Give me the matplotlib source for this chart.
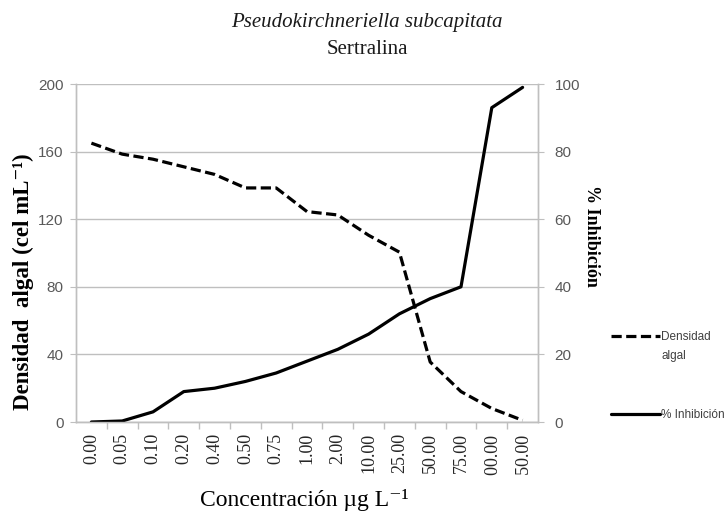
import matplotlib
matplotlib.use("Agg")
import matplotlib.pyplot as plt
from matplotlib.legend_handler import HandlerLine2D
from matplotlib.transforms import Bbox, TransformedBbox
import numpy as np

plt.rcParams["mathtext.fontset"] = "custom"
plt.rcParams["mathtext.rm"] = "Liberation Serif"
plt.rcParams["mathtext.bf"] = "Liberation Serif:bold"

# concentraciones (ug/L) como categorias
conc = ["0.00", "0.05", "0.10", "0.20", "0.40", "0.50", "0.75", "1.00",
        "2.00", "10.00", "25.00", "50.00", "75.00", "100.00", "150.00"]
densidad = [165, 158.5, 155.5, 151, 146.5, 138.5, 138.5, 124.5,
            122.5, 110.5, 100.5, 35.5, 18, 8, 1]
inhibicion = [0, 0.3, 3, 9, 10, 12, 14.5, 18,
              21.5, 26, 32, 36.5, 40, 93, 99]

serif = ["Liberation Serif", "DejaVu Serif"]
sans = ["Liberation Sans", "DejaVu Sans"]
gris = "#BFBFBF"
gris_txt = "#595959"


class HandlerArriba(HandlerLine2D):
    # la linea de muestra queda a la altura del primer renglon
    def __init__(self, dy=0, **kw):
        super().__init__(**kw)
        self.dy = dy

    def create_artists(self, legend, orig_handle, xdescent, ydescent,
                       width, height, fontsize, trans):
        arts = super().create_artists(legend, orig_handle, xdescent, ydescent,
                                      width, height, fontsize, trans)
        for a in arts:
            a.set_ydata(np.asarray(a.get_ydata()) + self.dy)
        return arts


fig = plt.figure(figsize=(7.26, 5.15), dpi=100)
ax = fig.add_axes([76 / 726, 1 - 422 / 515, 462 / 726, 338 / 515])
ax2 = ax.twinx()

x = np.arange(len(conc))
l1, = ax.plot(x, densidad, color="black", lw=2.3, dashes=(3.2, 1.4),
              dash_capstyle="butt", dash_joinstyle="round")
l2, = ax2.plot(x, inhibicion, color="black", lw=2.3,
               solid_joinstyle="round", solid_capstyle="round")

ax.set_xlim(-0.5, len(conc) - 0.5)
ax.set_ylim(0, 200)
ax2.set_ylim(0, 100)
ax.set_yticks(np.arange(0, 201, 40))
ax2.set_yticks(np.arange(0, 101, 20))
ax.grid(axis="y", color=gris, lw=1)
ax.set_axisbelow(True)

ax.set_xticks(x)
ax.set_xticklabels(conc, rotation=90, family=serif, fontsize=13, color="#262626")
ax.set_xticks(x[:-1] + 0.5, minor=True)
ax.tick_params(axis="x", which="major", length=0, pad=8)
ax.tick_params(axis="x", which="minor", length=5, color=gris, width=1)
ax.tick_params(axis="y", length=4, color=gris, labelsize=11, labelcolor=gris_txt, pad=5)
ax2.tick_params(axis="y", length=4, color=gris, labelsize=11, labelcolor=gris_txt, pad=8)
for t in ax.get_yticklabels() + ax2.get_yticklabels():
    t.set_family(sans)

for a in (ax, ax2):
    a.spines["top"].set_visible(False)
    for s in ("left", "right", "bottom"):
        a.spines[s].set_color(gris)
        a.spines[s].set_linewidth(1)

ax.set_xlabel("Concentración µg L⁻¹", family=serif, fontsize=17, color="black")
ax.xaxis.set_label_coords(0.494, -0.23)
ax.xaxis.label.set_va("center")

ax.set_ylabel("Densidad  algal (cel mL⁻¹)", family=serif, fontsize=16.5,
              fontweight="bold", color="black")
ax.yaxis.set_label_coords(-0.114, 0.415)
ax.yaxis.label.set_va("center")
ax2.set_ylabel("% Inhibición", family=serif, fontsize=13, fontweight="bold",
               color="black", rotation=-90)
ax2.yaxis.set_label_coords(1.115, 0.55)
ax2.yaxis.label.set_va("center")

fig.text(367 / 726, 1 - 23 / 515, "Pseudokirchneriella subcapitata", family=serif,
         style="italic", fontsize=15, ha="center", va="center", color="#1a1a1a")
fig.text(367 / 726, 1 - 49 / 515, "Sertralina", family=serif,
         fontsize=15, ha="center", va="center", color="#1a1a1a")

# leyenda a la derecha, fuera del area de trazado
leg1 = fig.legend([l1], ["Densidad\nalgal"], loc="center left",
                  bbox_to_anchor=(600 / 726, 1 - 346.5 / 515), frameon=False,
                  prop={"family": sans, "size": 8.5}, handlelength=4.2,
                  handletextpad=0.1, labelcolor="#404040",
                  handler_map={l1: HandlerArriba(dy=7.5)})
leg1.get_texts()[0].set_linespacing(1.75)
leg2 = fig.legend([l2], ["% Inhibición"], loc="center left",
                  bbox_to_anchor=(600 / 726, 1 - 415 / 515), frameon=False,
                  prop={"family": sans, "size": 8.5}, handlelength=4.2,
                  handletextpad=0.1, labelcolor="#404040")

# las dos ultimas etiquetas quedan cortadas abajo, como en el original
fig.canvas.draw()
caja = TransformedBbox(Bbox([[0, 39 / 515], [1, 1]]), fig.transFigure)
for t in ax.get_xticklabels():
    t.set_clip_box(caja)
    t.set_clip_on(True)

fig.savefig("out.png", dpi=100)
